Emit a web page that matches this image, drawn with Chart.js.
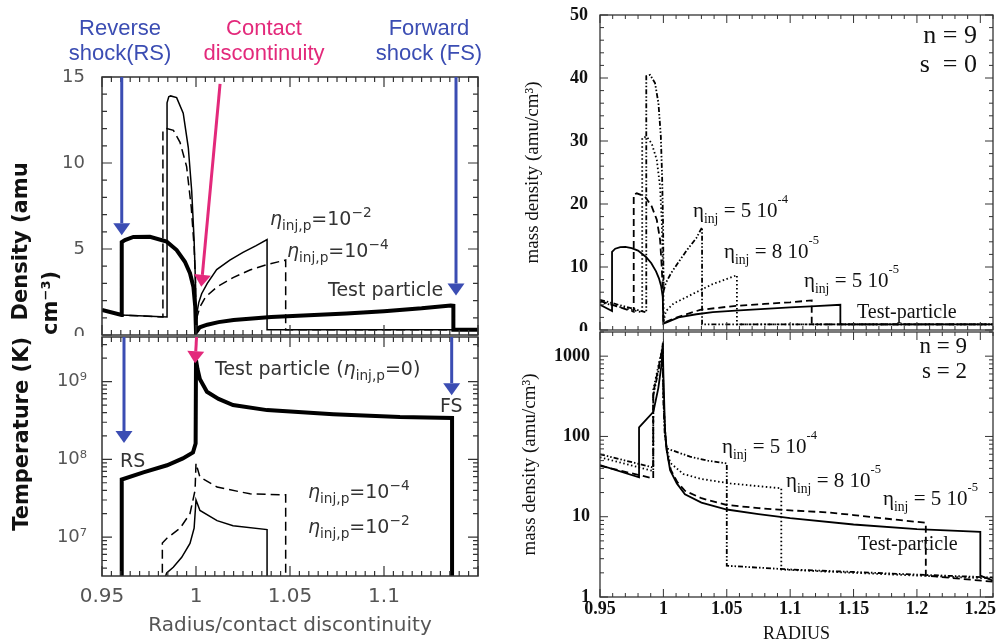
<!DOCTYPE html>
<html>
<head>
<meta charset="utf-8">
<script src="https://cdn.jsdelivr.net/npm/chart.js@4.4.1/dist/chart.umd.min.js"></script>
<style>
  html, body { margin: 0; padding: 0; width: 996px; height: 641px; overflow: hidden; background: #fff; }
  .pane { position: absolute; }
  .pane canvas { display: block; }
  .white canvas { background: #fff; }
  .lbl { position: absolute; white-space: pre; line-height: 1; }
  .sans { font-family: "DejaVu Sans", sans-serif; font-size: 19px; color: #333; }
  .sans sub { font-size: .72em; vertical-align: -.4em; line-height: 0; }
  .sans sup { font-size: .72em; vertical-align: .6em; line-height: 0; }
  .sans .eta { font-style: italic; }
  .serif { font-family: "Liberation Serif", "Times New Roman", serif; font-size: 21px; color: #111; }
  .serif sub { font-size: .65em; vertical-align: -.45em; line-height: 0; }
  .serif sup { font-size: .6em; vertical-align: 1.1em; line-height: 0; }
  .ann { font-family: "Liberation Sans", Arial, sans-serif; font-size: 22px; line-height: 25px; text-align: center; width: 200px; }
  .nlab { font-size: 26px; line-height: 29px; text-align: right; width: 100px; }
</style>
</head>
<body>
<div class="pane" style="left:0;top:0"><canvas id="densChart" width="500" height="340"></canvas></div>
<div class="pane white" style="left:0;top:336px"><canvas id="tempChart" width="500" height="315"></canvas></div>
<div class="pane" style="left:500px;top:0"><canvas id="rhoS0Chart" width="520" height="331"></canvas></div>
<div class="pane white" style="left:500px;top:331px"><canvas id="rhoS2Chart" width="520" height="320"></canvas></div>

<!-- annotations, left column -->
<div class="lbl ann" style="left:20px;top:15px;color:#3b4db3">Reverse<br>shock(RS)</div>
<div class="lbl ann" style="left:164px;top:15px;color:#e3297b">Contact<br>discontinuity</div>
<div class="lbl ann" style="left:329px;top:15px;color:#3b4db3">Forward<br>shock (FS)</div>

<div class="lbl sans" style="left:270px;top:209px"><span class="eta">η</span><sub>inj,p</sub>=10<sup>−2</sup></div>
<div class="lbl sans" style="left:287px;top:241px"><span class="eta">η</span><sub>inj,p</sub>=10<sup>−4</sup></div>
<div class="lbl sans" style="left:328px;top:280px">Test particle</div>
<div class="lbl sans" style="left:215px;top:359px">Test particle (<span class="eta">η</span><sub>inj,p</sub>=0)</div>
<div class="lbl sans" style="left:440px;top:396px">FS</div>
<div class="lbl sans" style="left:120px;top:451px">RS</div>
<div class="lbl sans" style="left:308px;top:482px"><span class="eta">η</span><sub>inj,p</sub>=10<sup>−4</sup></div>
<div class="lbl sans" style="left:308px;top:517px"><span class="eta">η</span><sub>inj,p</sub>=10<sup>−2</sup></div>

<!-- annotations, right column -->
<div class="lbl serif nlab" style="left:877px;top:20px">n = 9
s  = 0</div>
<div class="lbl serif nlab" style="left:867px;top:333px;font-size:23px;line-height:25px">n = 9
s = 2</div>
<div class="lbl serif" style="left:693px;top:199px">η<sub>inj</sub> = 5 10<sup>-4</sup></div>
<div class="lbl serif" style="left:724px;top:240px">η<sub>inj</sub> = 8 10<sup>-5</sup></div>
<div class="lbl serif" style="left:804px;top:269px">η<sub>inj</sub> = 5 10<sup>-5</sup></div>
<div class="lbl serif" style="left:857px;top:301px;font-size:20px">Test-particle</div>
<div class="lbl serif" style="left:722px;top:435px">η<sub>inj</sub> = 5 10<sup>-4</sup></div>
<div class="lbl serif" style="left:786px;top:469px">η<sub>inj</sub> = 8 10<sup>-5</sup></div>
<div class="lbl serif" style="left:883px;top:487px">η<sub>inj</sub> = 5 10<sup>-5</sup></div>
<div class="lbl serif" style="left:858px;top:533px;font-size:20px">Test-particle</div>

<script>
// tick values and labels
const radiusTicks = [0.95, 1, 1.05, 1.1];
const radiusTickLabels = ["0.95", "1", "1.05", "1.1"];
const densTicks = [0, 5, 10, 15];
const tempTicks = [1e7, 1e8, 1e9];
const tempTickLabels = ["10⁷", "10⁸", "10⁹"];
const radiusTicksRight = [0.95, 1, 1.05, 1.1, 1.15, 1.2, 1.25];
const radiusTickLabelsRight = ["0.95", "1", "1.05", "1.1", "1.15", "1.2", "1.25"];
const rhoS0Ticks = [0, 10, 20, 30, 40, 50];
const rhoS2Ticks = [1, 10, 100, 1000];

// left, top: density [radius, amu cm-3]
const densTestParticle = [[0.95,1.45],[0.9604,1.16],[0.9605,5.4],[0.9622,5.52],[0.9667,5.7],[0.9755,5.71],[0.9844,5.43],[0.9897,4.94],[0.9941,4.26],[0.9968,3.59],[0.9986,2.81],[0.9996,1.65],[1.0,0.15],[1.002,0.45],[1.006,0.6],[1.012,0.75],[1.02,0.87],[1.04,1.05],[1.06,1.15],[1.08,1.25],[1.1,1.38],[1.12,1.55],[1.1355,1.72],[1.1369,1.7],[1.1369,0.3],[1.15,0.3]];
const densInj1e2 = [[0.95,1.45],[0.9604,1.16],[0.9846,1.05],[0.9846,13.5],[0.9855,13.85],[0.9865,13.9],[0.9897,13.8],[0.9932,12.9],[0.9959,10.9],[0.9977,8.4],[0.999,5.5],[0.9998,2.8],[1.0,0.6],[1.0005,1.3],[1.0015,1.9],[1.003,2.4],[1.006,3.0],[1.011,3.8],[1.018,4.35],[1.025,4.8],[1.032,5.2],[1.0378,5.55],[1.0378,0.3],[1.15,0.3]];
const densInj1e4 = [[0.95,1.45],[0.9604,1.16],[0.9824,1.05],[0.9824,11.9],[0.9845,12.0],[0.988,11.9],[0.9915,11.2],[0.995,9.8],[0.9975,7.4],[0.999,5.1],[0.9997,3.2],[1.0,0.6],[1.0007,1.1],[1.0021,1.63],[1.005,2.2],[1.0112,2.8],[1.02,3.35],[1.0287,3.78],[1.038,4.1],[1.0477,4.36],[1.0477,0.3],[1.15,0.3]];

// left, bottom: temperature [radius, K]
const tempTestParticle = [[0.9605,1e6],[0.9605,5.5e7],[0.972,6.8e7],[0.9846,8.4e7],[0.993,1.03e8],[0.9984,1.23e8],[0.9998,1.6e8],[1.0,1.9e9],[1.0008,1.45e9],[1.0021,1.07e9],[1.0058,7.4e8],[1.012,6.0e8],[1.0197,5.0e8],[1.0378,4.3e8],[1.073,3.8e8],[1.1085,3.5e8],[1.1362,3.4e8],[1.1362,1e6]];
const tempInj1e4 = [[0.9821,1e6],[0.9821,8.4e6],[0.9844,9.6e6],[0.9915,1.3e7],[0.9968,2.0e7],[0.9995,4.0e7],[1.0,8.9e7],[1.0021,5.9e7],[1.0112,4.4e7],[1.0287,3.6e7],[1.0477,3.5e7],[1.0477,1e6]];
const tempInj1e2 = [[0.9835,3.0e6],[0.9844,3.45e6],[0.9879,4.1e6],[0.9924,5.5e6],[0.9968,8.3e6],[0.999,1.3e7],[1.0,3.0e7],[1.0021,2.2e7],[1.0112,1.63e7],[1.0197,1.4e7],[1.0378,1.25e7],[1.0378,1e6]];

// right, top: n=9 s=0 mass density
const rhoS0TestParticle = [[0.95,4.0],[0.9595,3.0],[0.9595,12.4],[0.962,12.9],[0.966,13.15],[0.97,13.2],[0.975,13.0],[0.98,12.6],[0.9863,11.6],[0.9905,10.6],[0.9942,9.3],[0.9965,8.2],[0.9982,7.0],[0.9995,5.3],[1.0,1.0],[1.0035,1.3],[1.012,2.0],[1.026,2.5],[1.039,2.85],[1.06,3.1],[1.08,3.35],[1.1,3.6],[1.12,3.8],[1.1396,4.0],[1.1396,0.9],[1.26,0.9]];
const rhoS0Inj5e5 = [[0.95,4.6],[0.9766,2.9],[0.9766,21.5],[0.979,21.7],[0.9855,21.2],[0.9908,19.6],[0.9948,17.5],[0.9974,14.3],[0.9987,10.0],[0.9995,6.3],[1.0,1.1],[1.0035,1.4],[1.012,2.1],[1.029,3.2],[1.0555,3.8],[1.08,4.15],[1.1,4.4],[1.117,4.7],[1.117,0.9],[1.26,0.9]];
const rhoS0Inj8e5 = [[0.95,4.4],[0.9833,2.8],[0.9833,30.5],[0.9868,30.7],[0.9908,29.6],[0.9948,27.0],[0.9974,22.7],[0.9987,17.5],[0.9995,11.1],[1.0,5.9],[1.0003,1.5],[1.002,3.0],[1.008,4.2],[1.016,5.0],[1.029,6.3],[1.039,7.3],[1.05,8.1],[1.058,8.7],[1.058,0.9],[1.26,0.9]];
const rhoS0Inj5e4 = [[0.95,4.8],[0.9865,2.8],[0.9865,40.3],[0.9895,40.5],[0.9934,39.2],[0.9961,36.0],[0.998,30.7],[0.999,24.3],[0.9998,16.4],[1.0,10.0],[1.0003,6.3],[1.002,7.5],[1.006,9.0],[1.012,10.8],[1.019,12.8],[1.026,14.6],[1.0305,16.3],[1.0305,0.9],[1.26,0.9]];

// right, bottom: n=9 s=2 mass density
const rhoS2TestParticle = [[0.95,44],[0.9808,31],[0.9808,130],[0.9921,203],[0.996,400],[0.9987,820],[0.9995,1450],[1.0,600],[1.0013,120],[1.0026,68],[1.0053,38],[1.0106,26],[1.017,19],[1.03,15],[1.05,12.3],[1.075,10.8],[1.1,9.6],[1.15,8.0],[1.2,7.0],[1.25,6.5],[1.25,1.85],[1.26,1.6]];
const rhoS2Inj5e5 = [[0.95,43],[0.992,30],[0.992,350],[0.996,700],[0.9995,1300],[1.0,300],[1.0013,110],[1.003,60],[1.006,38],[1.011,27],[1.017,21],[1.03,17],[1.05,14],[1.075,12.8],[1.1,12.0],[1.13,11.3],[1.15,10.5],[1.18,9.3],[1.207,8.4],[1.207,1.85],[1.26,1.55]];
const rhoS2Inj8e5 = [[0.95,55],[0.992,37],[0.992,380],[0.996,750],[0.9995,1350],[1.0,300],[1.002,80],[1.0053,47],[1.0158,34],[1.03,29.5],[1.0527,26],[1.075,24],[1.093,22.6],[1.093,2.2],[1.15,2.0],[1.2,1.85],[1.26,1.7]];
const rhoS2Inj5e4 = [[0.95,60],[0.992,41],[0.992,320],[0.996,650],[0.9995,1200],[1.0,300],[1.001,110],[1.0026,71],[1.021,56],[1.035,50],[1.05,46],[1.05,2.45],[1.1,2.2],[1.15,2.05],[1.2,1.9],[1.26,1.75]];

const BLUE = "#3b4db3", PINK = "#e3297b";

// arrows on the left panels, in data units
const densArrows = [
    { from: [0.9605, 15], to: [0.9605, 5.8], color: BLUE },
    { from: [1.0128, 14.6], to: [1.0028, 2.8], color: PINK },
    { from: [1.1383, 15], to: [1.1383, 2.3], color: BLUE },
];
const tempArrows = [
    { from: [0.9617, 3.75e9], to: [0.9617, 1.62e8], color: BLUE },
    { from: [1.0003, 3.75e9], to: [0.9995, 1.72e9], color: PINK },
    { from: [1.136, 3.75e9], to: [1.136, 6.7e8], color: BLUE },
];

function pts(arr) {
    return arr.map(function (p) { return { x: p[0], y: p[1] }; });
}

function line(arr, width, dash) {
    return {
        data: pts(arr), showLine: true, borderColor: "#000", borderWidth: width,
        borderDash: dash || [], pointRadius: 0, tension: 0, fill: false,
    };
}

// inward tick marks on all four sides plus the box
function tickValues(scale, major, minor) {
    var out = [];
    if (scale.type === "logarithmic") {
        for (var e = Math.floor(Math.log10(scale.min)); e <= Math.ceil(Math.log10(scale.max)); e++) {
            for (var m = 1; m < 10; m++) {
                var v = m * Math.pow(10, e);
                if (v >= scale.min && v <= scale.max) out.push({ v: v, major: m === 1 });
            }
        }
    } else {
        var n0 = Math.ceil(scale.min / minor - 1e-6), n1 = Math.floor(scale.max / minor + 1e-6);
        for (var i = n0; i <= n1; i++) {
            var r = (i * minor) / major;
            out.push({ v: i * minor, major: Math.abs(r - Math.round(r)) < 1e-6 });
        }
    }
    return out;
}

const framePlugin = {
    id: "frame",
    afterDatasetsDraw: function (chart, args, o) {
        var ctx = chart.ctx, a = chart.chartArea, xs = chart.scales.x, ys = chart.scales.y;
        ctx.save();
        ctx.strokeStyle = o.color;
        ctx.lineWidth = o.tickWidth;
        ctx.beginPath();
        tickValues(xs, o.xMajor, o.xMinor).forEach(function (t) {
            var p = xs.getPixelForValue(t.v), len = t.major ? o.majorLen : o.minorLen;
            ctx.moveTo(p, a.bottom); ctx.lineTo(p, a.bottom - len);
            ctx.moveTo(p, a.top); ctx.lineTo(p, a.top + len);
        });
        tickValues(ys, o.yMajor, o.yMinor).forEach(function (t) {
            var p = ys.getPixelForValue(t.v), len = t.major ? o.majorLen : o.minorLen;
            ctx.moveTo(a.left, p); ctx.lineTo(a.left + len, p);
            ctx.moveTo(a.right, p); ctx.lineTo(a.right - len, p);
        });
        ctx.stroke();
        ctx.lineWidth = o.width;
        ctx.strokeRect(a.left, a.top, a.right - a.left, a.bottom - a.top);
        ctx.restore();
    },
};

const arrowPlugin = {
    id: "arrows",
    afterDraw: function (chart, args, o) {
        var ctx = chart.ctx, xs = chart.scales.x, ys = chart.scales.y;
        (o.list || []).forEach(function (ar) {
            var x0 = xs.getPixelForValue(ar.from[0]), y0 = ys.getPixelForValue(ar.from[1]);
            var x1 = xs.getPixelForValue(ar.to[0]), y1 = ys.getPixelForValue(ar.to[1]);
            var ang = Math.atan2(y1 - y0, x1 - x0), hl = 12, hw = 8.5;
            var bx = x1 - hl * Math.cos(ang), by = y1 - hl * Math.sin(ang);
            ctx.save();
            ctx.strokeStyle = ar.color; ctx.fillStyle = ar.color; ctx.lineWidth = 3;
            ctx.beginPath(); ctx.moveTo(x0, y0); ctx.lineTo(bx, by); ctx.stroke();
            ctx.beginPath();
            ctx.moveTo(x1, y1);
            ctx.lineTo(bx + hw * Math.sin(ang), by - hw * Math.cos(ang));
            ctx.lineTo(bx - hw * Math.sin(ang), by + hw * Math.cos(ang));
            ctx.closePath(); ctx.fill();
            ctx.restore();
        });
    },
};

function fitY(w) {
    return function (s) { s.width = w; s.paddingTop = 0; s.paddingBottom = 0; };
}
function fitX(h) {
    return function (s) { s.height = h; s.paddingLeft = 0; s.paddingRight = 0; };
}
function setTicks(values) {
    return function (s) { s.ticks = values.map(function (v) { return { value: v }; }); };
}
function labelsFrom(labels) {
    return function (v, i) { return labels[i]; };
}

const noGrid = { display: false, drawTicks: false };
const leftTickFont = { family: "DejaVu Sans", size: 18 };
const leftTitleFont = { family: "DejaVu Sans", size: 21, weight: "bold", lineHeight: 1.43 };
const rightTickFont = { family: "Liberation Serif", size: 18, weight: "bold" };
const rightTitleFont = { family: "Liberation Serif", size: 19 };

function makeChart(id, datasets, padding, scales, frame, arrows) {
    return new Chart(document.getElementById(id), {
        type: "scatter",
        data: { datasets: datasets },
        options: {
            responsive: false,
            animation: false,
            layout: { padding: padding },
            plugins: {
                legend: { display: false },
                tooltip: { enabled: false },
                frame: frame,
                arrows: { list: arrows || [] },
            },
            scales: scales,
        },
        plugins: [framePlugin, arrowPlugin],
    });
}

// left, top
makeChart("densChart",
    [line(densTestParticle, 4), line(densInj1e2, 1.5), line(densInj1e4, 1.5, [9, 5])],
    { top: 77, right: 22, bottom: 5, left: 0 },
    {
        x: {
            type: "linear", min: 0.95, max: 1.15,
            ticks: { display: false }, grid: noGrid, border: { display: false },
            afterFit: fitX(0),
        },
        y: {
            type: "linear", min: 0, max: 15,
            afterBuildTicks: setTicks(densTicks),
            ticks: { font: leftTickFont, color: "#555", padding: 17, callback: labelsFrom(densTicks.map(String)) },
            grid: noGrid, border: { display: false },
            title: { display: true, text: ["  Density (amu", "cm⁻³)"], align: "start", font: leftTitleFont, color: "#111", padding: { top: 7, bottom: 0 } },
            afterFit: fitY(102),
        },
    },
    { color: "#333", width: 1.5, tickWidth: 1.2, majorLen: 10, minorLen: 5, xMajor: 0.05, xMinor: 0.005, yMajor: 5, yMinor: 1 },
    densArrows);

// left, bottom
makeChart("tempChart",
    [line(tempTestParticle, 4), line(tempInj1e2, 1.5), line(tempInj1e4, 1.5, [9, 5])],
    { top: 1, right: 22, bottom: 0, left: 0 },
    {
        x: {
            type: "linear", min: 0.95, max: 1.15,
            afterBuildTicks: setTicks(radiusTicks),
            ticks: { font: { family: "DejaVu Sans", size: 20 }, color: "#555", padding: 9, maxRotation: 0, callback: labelsFrom(radiusTickLabels) },
            grid: noGrid, border: { display: false },
            title: { display: true, text: "Radius/contact discontinuity", font: { family: "DejaVu Sans", size: 20 }, color: "#555", padding: { top: 0, bottom: 13 } },
            afterFit: fitX(75),
        },
        y: {
            type: "logarithmic", min: 3.16e6, max: 3.75e9,
            afterBuildTicks: setTicks(tempTicks),
            ticks: { font: leftTickFont, color: "#555", padding: 15, callback: labelsFrom(tempTickLabels) },
            grid: noGrid, border: { display: false },
            title: { display: true, text: "Temperature (K)", align: "end", font: { family: "DejaVu Sans", size: 21, weight: "bold", lineHeight: 1.2 }, color: "#111", padding: { top: 10, bottom: 0 } },
            afterFit: fitY(102),
        },
    },
    { color: "#333", width: 1.5, tickWidth: 1.2, majorLen: 10, minorLen: 5, xMajor: 0.05, xMinor: 0.005 },
    tempArrows);

// right, top
makeChart("rhoS0Chart",
    [line(rhoS0TestParticle, 1.8), line(rhoS0Inj5e5, 1.8, [7, 4]), line(rhoS0Inj8e5, 1.8, [1.5, 2.5]), line(rhoS0Inj5e4, 1.8, [5, 2, 1.5, 2, 1.5, 2])],
    { top: 15, right: 27, bottom: 1, left: 0 },
    {
        x: {
            type: "linear", min: 0.95, max: 1.26,
            ticks: { display: false }, grid: noGrid, border: { display: false },
            afterFit: fitX(0),
        },
        y: {
            type: "linear", min: 0, max: 50,
            afterBuildTicks: setTicks(rhoS0Ticks),
            ticks: { font: rightTickFont, color: "#111", padding: 12, callback: labelsFrom(rhoS0Ticks.map(String)) },
            grid: noGrid, border: { display: false },
            title: { display: true, text: "mass density (amu/cm³)", font: rightTitleFont, color: "#111", padding: { top: 22, bottom: 0 } },
            afterFit: fitY(100),
        },
    },
    { color: "#333", width: 1.3, tickWidth: 1, majorLen: 8, minorLen: 4, xMajor: 0.05, xMinor: 0.01, yMajor: 10, yMinor: 2 });

// right, bottom
makeChart("rhoS2Chart",
    [line(rhoS2TestParticle, 1.8), line(rhoS2Inj5e5, 1.8, [7, 4]), line(rhoS2Inj8e5, 1.8, [1.5, 2.5]), line(rhoS2Inj5e4, 1.8, [5, 2, 1.5, 2, 1.5, 2])],
    { top: 1, right: 27, bottom: 0, left: 0 },
    {
        x: {
            type: "linear", min: 0.95, max: 1.26,
            afterBuildTicks: setTicks(radiusTicksRight),
            ticks: { font: rightTickFont, color: "#111", padding: 2, maxRotation: 0, callback: labelsFrom(radiusTickLabelsRight) },
            grid: noGrid, border: { display: false },
            title: { display: true, text: "RADIUS", font: { family: "Liberation Serif", size: 18 }, color: "#111", padding: { top: 0, bottom: 6 } },
            afterFit: fitX(54),
        },
        y: {
            type: "logarithmic", min: 1, max: 2000,
            afterBuildTicks: setTicks(rhoS2Ticks),
            ticks: { font: rightTickFont, color: "#111", padding: 10, callback: labelsFrom(rhoS2Ticks.map(String)) },
            grid: noGrid, border: { display: false },
            title: { display: true, text: "mass density (amu/cm³)", font: rightTitleFont, color: "#111", padding: { top: 19, bottom: 0 } },
            afterFit: fitY(100),
        },
    },
    { color: "#333", width: 1.3, tickWidth: 1, majorLen: 8, minorLen: 4, xMajor: 0.05, xMinor: 0.01 });
</script>
</body>
</html>
